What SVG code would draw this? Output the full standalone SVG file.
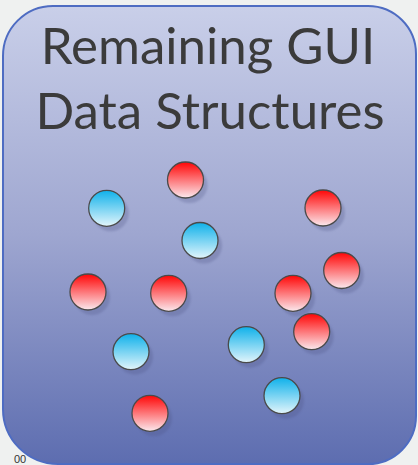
<svg xmlns="http://www.w3.org/2000/svg" width="418" height="465" viewBox="0 0 418 465">
<defs>
<linearGradient id="bg" x1="0" y1="0" x2="0" y2="1">
<stop offset="0" stop-color="#c9cfe9"/>
<stop offset="0.5" stop-color="#9ea6d0"/>
<stop offset="1" stop-color="#5d6db0"/>
</linearGradient>
<linearGradient id="red" x1="0" y1="0" x2="0" y2="1">
<stop offset="0" stop-color="#ff0606"/>
<stop offset="1" stop-color="#fbe9ee"/>
</linearGradient>
<linearGradient id="blue" x1="0" y1="0" x2="0" y2="1">
<stop offset="0" stop-color="#0fb1ea"/>
<stop offset="1" stop-color="#e3f5fb"/>
</linearGradient>
<filter id="blur" x="-20%" y="-20%" width="140%" height="140%"><feGaussianBlur stdDeviation="0.8"/></filter>
<symbol id="sh" overflow="visible"><circle cx="4" cy="5" r="18" fill="#4a4f80" opacity="0.26" filter="url(#blur)"/></symbol>
</defs>
<style>
.r{fill:url(#red);stroke:#4a4a4a;stroke-width:1.3}
.b{fill:url(#blue);stroke:#4a4a4a;stroke-width:1.3}
.t{font-family:Lato,"Liberation Sans",sans-serif;font-size:51px;fill:#3b3b3b;text-anchor:middle}
</style>
<rect width="418" height="465" fill="#eff1f0"/>
<g id="panel">
<path d="M53,6 H368 A48,48 0 0 1 416,54 V416 A48,48 0 0 1 368,464 H58 A55,55 0 0 1 3,409 V56 A50,50 0 0 1 53,6 Z" fill="url(#bg)" stroke="#4e6cc2" stroke-width="2"/>
<text class="t" x="208" y="64">Remaining GUI</text>
<text class="t" x="210" y="129">Data Structures</text>
</g>
<text x="14" y="463" font-family="Liberation Sans,sans-serif" font-size="11" fill="#333">00</text>
<g id="nodes">
<g id="n1" transform="translate(185.5,180)"><use href="#sh"/><circle class="r" r="18"/></g>
<g id="n2" transform="translate(106.7,208.3)"><use href="#sh"/><circle class="b" r="18"/></g>
<g id="n3" transform="translate(323,208)"><use href="#sh"/><circle class="r" r="18"/></g>
<g id="n4" transform="translate(200,240.5)"><use href="#sh"/><circle class="b" r="18"/></g>
<g id="n5" transform="translate(341.7,270.5)"><use href="#sh"/><circle class="r" r="18"/></g>
<g id="n6" transform="translate(88,292)"><use href="#sh"/><circle class="r" r="18"/></g>
<g id="n7" transform="translate(168.7,293.3)"><use href="#sh"/><circle class="r" r="18"/></g>
<g id="n8" transform="translate(293,293.3)"><use href="#sh"/><circle class="r" r="18"/></g>
<g id="n9" transform="translate(311.7,331.7)"><use href="#sh"/><circle class="r" r="18"/></g>
<g id="n10" transform="translate(246.3,344.7)"><use href="#sh"/><circle class="b" r="18"/></g>
<g id="n11" transform="translate(131,351.7)"><use href="#sh"/><circle class="b" r="18"/></g>
<g id="n12" transform="translate(282,395.7)"><use href="#sh"/><circle class="b" r="18"/></g>
<g id="n13" transform="translate(150,413.3)"><use href="#sh"/><circle class="r" r="18"/></g>
</g>
<g id="connectors"/>
</svg>
